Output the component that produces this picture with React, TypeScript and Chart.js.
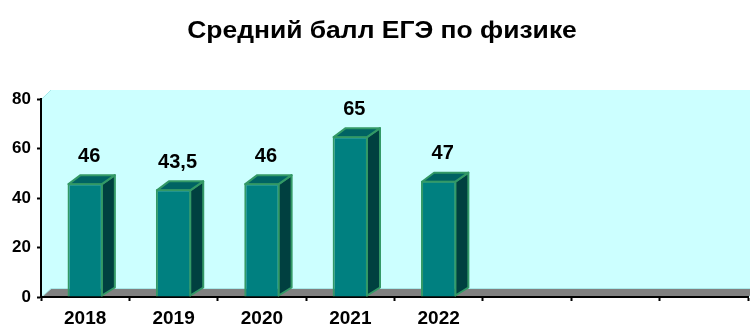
import React, { useEffect, useRef } from "react";
import { Chart, registerables } from "chart.js";

Chart.register(...registerables);

// Average physics exam score by year
const title = "Средний балл ЕГЭ по физике";
const years = ["2018", "2019", "2020", "2021", "2022"];
const scores = [46, 43.5, 46, 65, 47];
const emptySlots = 3; // unused category slots on the right of the axis
const yTicks = [0, 20, 40, 60, 80];

const FONT = "Arial, 'Liberation Sans', sans-serif";
const WALL_DEPTH = { x: 10, y: 8 };
const BAR_DEPTH = { x: 12, y: 9 };

const colors = {
  wall: "#CCFFFF",
  wallEdge: "#A8E8E8",
  floor: "#808080",
  barFront: "#008080",
  barTop: "#006363",
  barSide: "#004040",
  barEdge: "#339966",
};

const formatValue = (v: number) => String(v).replace(".", ",");

// Back wall, side wall and floor of the pseudo-3D plot area
const wallPlugin = {
  id: "wall3d",
  beforeDraw(chart: any) {
    const { ctx, chartArea } = chart;
    const { left, right, top, bottom } = chartArea;
    const dx = WALL_DEPTH.x;
    const dy = WALL_DEPTH.y;
    ctx.save();
    ctx.fillStyle = colors.wall;
    ctx.beginPath();
    ctx.moveTo(left, bottom);
    ctx.lineTo(left, top);
    ctx.lineTo(left + dx, top - dy - 1);
    ctx.lineTo(right + dx, top - dy - 1);
    ctx.lineTo(right + dx, bottom);
    ctx.closePath();
    ctx.fill();

    ctx.fillStyle = colors.floor;
    ctx.beginPath();
    ctx.moveTo(left, bottom);
    ctx.lineTo(left + dx, bottom - dy);
    ctx.lineTo(right + dx, bottom - dy);
    ctx.lineTo(right, bottom);
    ctx.closePath();
    ctx.fill();

    ctx.strokeStyle = colors.wallEdge;
    ctx.lineWidth = 1;
    ctx.beginPath();
    ctx.moveTo(left + 1, bottom);
    ctx.lineTo(left + dx, bottom - dy - 0.5);
    ctx.lineTo(right + dx, bottom - dy - 0.5);
    ctx.moveTo(left + 1, top);
    ctx.lineTo(left + dx, top - dy - 1);
    ctx.stroke();

    // chart title, slightly widened
    ctx.fillStyle = "#000";
    ctx.font = `bold 23px ${FONT}`;
    ctx.textAlign = "center";
    ctx.textBaseline = "alphabetic";
    ctx.translate(382, 38);
    ctx.scale(1.15, 1);
    ctx.fillText(title, 0, 0);
    ctx.restore();
  },
};

// Top and side faces of each bar, plus value labels
const bar3dPlugin = {
  id: "bar3d",
  beforeDatasetsDraw(chart: any) {
    const { ctx } = chart;
    const meta = chart.getDatasetMeta(0);
    const dx = BAR_DEPTH.x;
    const dy = BAR_DEPTH.y;
    ctx.save();
    ctx.lineWidth = 2;
    ctx.lineJoin = "round";
    ctx.strokeStyle = colors.barEdge;
    meta.data.forEach((bar: any) => {
      const { x, y, base, width } = bar.getProps(["x", "y", "base", "width"], true);
      const l = x - width / 2;
      const r = x + width / 2;
      ctx.fillStyle = colors.barSide;
      ctx.beginPath();
      ctx.moveTo(r - 1, y + 1);
      ctx.lineTo(r + dx, y - dy + 1);
      ctx.lineTo(r + dx, base - dy);
      ctx.lineTo(r - 1, base - 1);
      ctx.closePath();
      ctx.fill();
      ctx.stroke();

      ctx.fillStyle = colors.barTop;
      ctx.beginPath();
      ctx.moveTo(l + 1, y + 1);
      ctx.lineTo(l + dx + 1, y - dy + 1);
      ctx.lineTo(r + dx, y - dy + 1);
      ctx.lineTo(r - 1, y + 1);
      ctx.closePath();
      ctx.fill();
      ctx.stroke();
    });
    ctx.restore();
  },
  afterDatasetsDraw(chart: any) {
    const { ctx } = chart;
    const meta = chart.getDatasetMeta(0);
    const values = chart.data.datasets[0].data as number[];
    ctx.save();
    ctx.fillStyle = "#000";
    ctx.font = `bold 20px ${FONT}`;
    ctx.textAlign = "center";
    ctx.textBaseline = "middle";
    meta.data.forEach((bar: any, i: number) => {
      const v = values[i];
      if (v == null) return;
      const { x, y } = bar.getProps(["x", "y"], true);
      ctx.fillText(formatValue(v), x + 4, y - 27);
    });
    ctx.restore();
  },
};

export default function App() {
  const canvasRef = useRef<HTMLCanvasElement | null>(null);

  useEffect(() => {
    document.body.style.margin = "0";
    const canvas = canvasRef.current;
    if (!canvas) return;
    const labels = [...years, ...Array(emptySlots).fill("")];
    const chart = new Chart(canvas, {
      type: "bar",
      data: {
        labels,
        datasets: [
          {
            data: scores,
            backgroundColor: colors.barFront,
            borderColor: colors.barEdge,
            borderWidth: 2,
            barPercentage: 0.4,
            categoryPercentage: 1,
          },
        ],
      },
      options: {
        responsive: false,
        animation: false,
        layout: { padding: { top: 99, right: 2, left: 0, bottom: 0 } },
        plugins: {
          legend: { display: false },
          title: { display: false },
          tooltip: { enabled: false },
        },
        scales: {
          x: {
            afterFit: (s: any) => {
              s.height = 30;
            },
            grid: {
              offset: true,
              drawOnChartArea: false,
              drawTicks: true,
              tickLength: 4,
              tickWidth: 2,
              color: "#000",
            },
            border: { display: true, color: "#000", width: 2 },
            ticks: {
              color: "#000",
              font: { family: FONT, size: 19, weight: "bold" },
              padding: 6,
              maxRotation: 0,
              autoSkip: false,
            },
          },
          y: {
            min: 0,
            max: 80,
            afterFit: (s: any) => {
              s.width = 41;
            },
            afterBuildTicks: (s: any) => {
              s.ticks = yTicks.map((value) => ({ value }));
            },
            grid: {
              drawOnChartArea: false,
              drawTicks: true,
              tickLength: 4,
              tickWidth: 2,
              color: "#000",
            },
            border: { display: true, color: "#000", width: 2 },
            ticks: {
              color: "#000",
              font: { family: FONT, size: 17, weight: "bold" },
              padding: 6,
            },
          },
        },
      },
      plugins: [wallPlugin, bar3dPlugin],
    });
    return () => chart.destroy();
  }, []);

  return <canvas ref={canvasRef} width={750} height={327} style={{ display: "block" }} />;
}
